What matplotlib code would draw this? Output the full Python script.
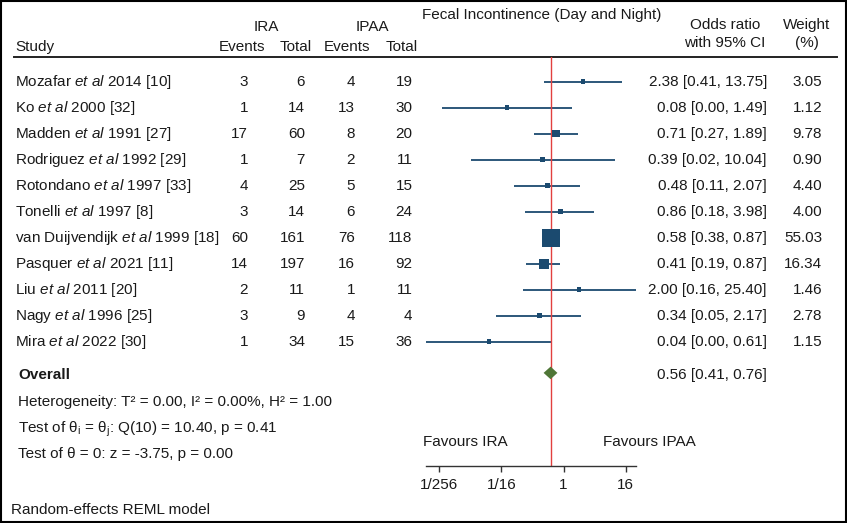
import numpy as np
import matplotlib
matplotlib.use('Agg')
import matplotlib.pyplot as plt
from matplotlib.patches import Rectangle

plt.rcParams['font.family'] = ['Liberation Sans', 'DejaVu Sans']
plt.rcParams['font.size'] = 11
plt.rcParams['mathtext.fontset'] = 'custom'
plt.rcParams['mathtext.rm'] = 'Liberation Sans'
plt.rcParams['mathtext.it'] = 'Liberation Sans:italic'
plt.rcParams['mathtext.bf'] = 'Liberation Sans:bold'

# study data
names = ['Mozafar', 'Ko', 'Madden', 'Rodriguez', 'Rotondano', 'Tonelli',
         'van Duijvendijk', 'Pasquer', 'Liu', 'Nagy', 'Mira']
years = [2014, 2000, 1991, 1992, 1997, 1997, 1999, 2021, 2011, 1996, 2022]
refs = [10, 32, 27, 29, 33, 8, 18, 11, 20, 25, 30]
ira_events = [3, 1, 17, 1, 4, 3, 60, 14, 2, 3, 1]
ira_total = [6, 14, 60, 7, 25, 14, 161, 197, 11, 9, 34]
ipaa_events = [4, 13, 8, 2, 5, 6, 76, 16, 1, 4, 15]
ipaa_total = [19, 30, 20, 11, 15, 24, 118, 92, 11, 4, 36]
odds = [2.38, 0.08, 0.71, 0.39, 0.48, 0.86, 0.58, 0.41, 2.00, 0.34, 0.036]
ci_low = [0.41, 0.0044, 0.27, 0.016, 0.11, 0.18, 0.38, 0.19, 0.16, 0.05, 0.0021]
ci_high = [13.75, 1.49, 1.89, 10.04, 2.07, 3.98, 0.87, 0.87, 25.40, 2.17, 0.61]
weights = [3.05, 1.12, 9.78, 0.90, 4.40, 4.00, 55.03, 16.34, 1.46, 2.78, 1.15]

overall_or = 0.56
overall_lo = 0.41
overall_hi = 0.76

tick_vals = [1/256, 1/16, 1, 16]
tick_labels = ['1/256', '1/16', '1', '16']

navy = '#1b4a6f'
green = '#4f7636'
red = '#e2403f'
txt = '#1a1a1a'

W, H = 847, 523
fig = plt.figure(figsize=(W/100, H/100), dpi=100)

# text layer in pixel coordinates
tx = fig.add_axes([0, 0, 1, 1])
tx.set_xlim(0, W)
tx.set_ylim(H, 0)
tx.axis('off')

row0 = 81.7   # y of first study row
dy = 26.0     # row spacing
overall_row = 11.2

def row_y(i):
    return row0 + dy * i

def put(x, y, s, ha='left', **kw):
    tx.text(x, y, s, ha=ha, va='center', color=txt, **kw)

# headers
put(541.5, 15, 'Fecal Incontinence (Day and Night)', ha='center')
put(266.8, 26.7, 'IRA', ha='center')
put(372.8, 26.7, 'IPAA', ha='center')
put(15, 46.7, 'Study')
for xc, lab in zip([242.5, 295.5, 346.7, 401.5], ['Events', 'Total', 'Events', 'Total']):
    put(xc, 46.7, lab, ha='center')
put(725, 25, 'Odds ratio', ha='center')
put(725, 43.3, 'with 95% CI', ha='center')
put(806.7, 25, 'Weight', ha='center')
put(806.7, 43.3, '(%)', ha='center')
tx.plot([14, 837], [57, 57], color='#222222', lw=1.4)

for i in range(len(names)):
    y = row_y(i)
    put(15, y, f'{names[i]} $\\mathit{{et\\ al}}$ {years[i]} [{refs[i]}]')
    put(248, y, str(ira_events[i]), ha='right')
    put(305, y, str(ira_total[i]), ha='right')
    put(355, y, str(ipaa_events[i]), ha='right')
    put(412.5, y, str(ipaa_total[i]), ha='right')
    put(767, y, f'{odds[i]:.2f} [{ci_low[i]:.2f}, {ci_high[i]:.2f}]', ha='right')
    put(822, y, f'{weights[i]:.2f}', ha='right')

yo = 375
put(18.3, yo, 'Overall', fontweight='bold')
put(767, yo, f'{overall_or:.2f} [{overall_lo:.2f}, {overall_hi:.2f}]', ha='right')
put(18.3, 401.7, 'Heterogeneity: T² = 0.00, I² = 0.00%, H² = 1.00')
put(18.3, 429.3, r'Test of θ$_\mathregular{i}$ = θ$_\mathregular{j}$: Q(10) = 10.40, p = 0.41')
put(18.3, 454.3, 'Test of θ = 0: z = -3.75, p = 0.00')
put(11, 510, 'Random-effects REML model')
put(423.3, 442.3, 'Favours IRA')
put(603.3, 442.3, 'Favours IPAA')

tx.add_patch(Rectangle((0.8, 0.8), W - 1.6, H - 1.6, fill=False, edgecolor='black', lw=1.5))

# forest panel
x_left, x_right = 425.5, 636.0
y_top, y_bot = 57.0, 465.5
ax = fig.add_axes([x_left / W, (H - y_bot) / H, (x_right - x_left) / W, (y_bot - y_top) / H])
ax.patch.set_alpha(0)
ax.set_xscale('log', base=2)
ax.set_xlim(min(ci_low), max(ci_high))
ax.set_ylim((y_bot - row0) / dy, (y_top - row0) / dy)
for s in ['top', 'left', 'right']:
    ax.spines[s].set_visible(False)
ax.spines['bottom'].set_color('#333333')
ax.spines['bottom'].set_linewidth(1.0)
ax.set_yticks([])
ax.set_xticks(tick_vals)
ax.set_xticklabels(tick_labels, color=txt)
ax.xaxis.set_minor_locator(matplotlib.ticker.NullLocator())
ax.tick_params(axis='x', length=4, width=1, color='#333333', pad=5, labelsize=11)

rows = np.arange(len(names))
ax.hlines(rows, ci_low, ci_high, color=navy, lw=1.3, zorder=1)
ax.axvline(overall_or, color=red, lw=1.0, zorder=2)

px_to_pt = 72 / 100
side_px = np.maximum(18 * np.sqrt(np.array(weights) / max(weights)), 4.5)
ax.scatter(odds, rows, marker='s', s=(side_px * px_to_pt) ** 2, color=navy, linewidths=0, zorder=3)

h = 6.3 / dy
ax.fill([overall_lo, overall_or, overall_hi, overall_or],
        [overall_row, overall_row - h, overall_row, overall_row + h],
        color=green, zorder=3, lw=0)

fig.savefig('out.png', dpi=100)
